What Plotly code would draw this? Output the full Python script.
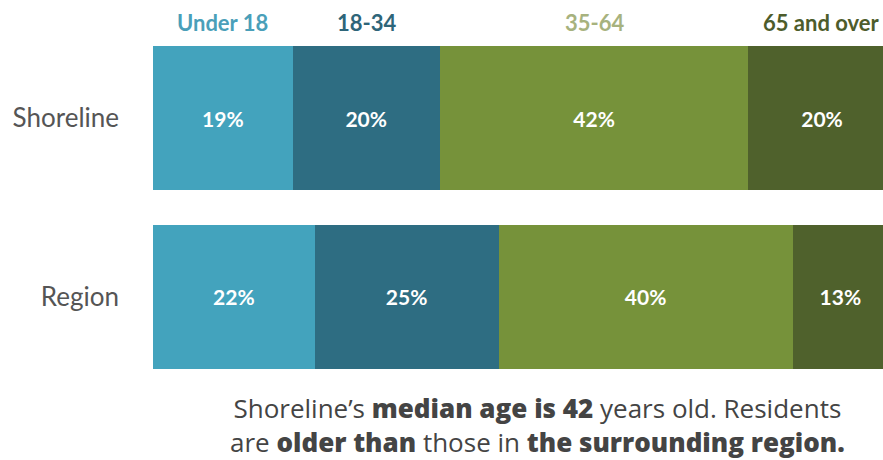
import plotly.graph_objects as go

places = ["Shoreline", "Region"]
groups = ["Under 18", "18-34", "35-64", "65 and over"]
shoreline = [19, 20, 42, 20]
region = [22, 25, 40, 13]
bar_colors = ["#43a3bd", "#2e6d82", "#76923a", "#4f612c"]
header_colors = ["#4a9fb9", "#2e6579", "#a7b27e", "#4d5c2b"]

W, H = 883, 460
L, T, B = 153, 28.5, 73.5
plot_h = H - T - B
plot_w = W - L
x_max = 99.3


def py(pix):
    return (H - B - pix) / plot_h


fig = go.Figure()
for i, g in enumerate(groups):
    vals = [shoreline[i], region[i]]
    fig.add_trace(go.Bar(
        y=places, x=vals, orientation="h", name=g,
        marker=dict(color=bar_colors[i], line=dict(width=0)),
        text=[f"{v}%" for v in vals],
        textposition="inside", insidetextanchor="middle",
        textfont=dict(family="Lato", size=21, color="white", weight="bold"),
        cliponaxis=True,
        hoverinfo="skip",
    ))

annotations = []
cum = 0
for i, g in enumerate(groups):
    center = cum + shoreline[i] / 2
    cum += shoreline[i]
    annotations.append(dict(
        x=center, xref="x", y=py(22), yref="paper", yanchor="middle",
        xanchor="center", showarrow=False,
        text=f"<b>{g}</b>",
        font=dict(family="Lato", size=22, color=header_colors[i]),
    ))

heavy = "<span style='font-weight:800'>{}</span>"
caption = (
    "Shoreline\u2019s " + heavy.format("median age is 42") + " years old. Residents<br>"
    "are " + heavy.format("older than") + " those in " + heavy.format("the surrounding region.")
)
annotations.append(dict(
    x=(537 - L) / plot_w, xref="paper", y=py(426), yref="paper",
    xanchor="center", yanchor="middle", align="center", showarrow=False,
    text=caption, font=dict(family="Open Sans", size=26, color="#444444"),
))

fig.update_layout(
    width=W, height=H,
    margin=dict(l=L, r=0, t=T, b=B, pad=0),
    barmode="stack", bargap=0.195,
    showlegend=False,
    plot_bgcolor="white", paper_bgcolor="white",
    xaxis=dict(range=[0, x_max], visible=False, fixedrange=True),
    yaxis=dict(categoryorder="array", categoryarray=["Region", "Shoreline"],
               showgrid=False, zeroline=False, showline=False, ticks="",
               ticklabelstandoff=33,
               tickfont=dict(family="Lato", size=26, color="#555555")),
    annotations=annotations,
    uniformtext=dict(mode="show", minsize=21),
)

fig.write_html("out.html", config={"displayModeBar": False},
               post_script="document.body.style.margin='0';document.body.style.overflow='hidden';")
